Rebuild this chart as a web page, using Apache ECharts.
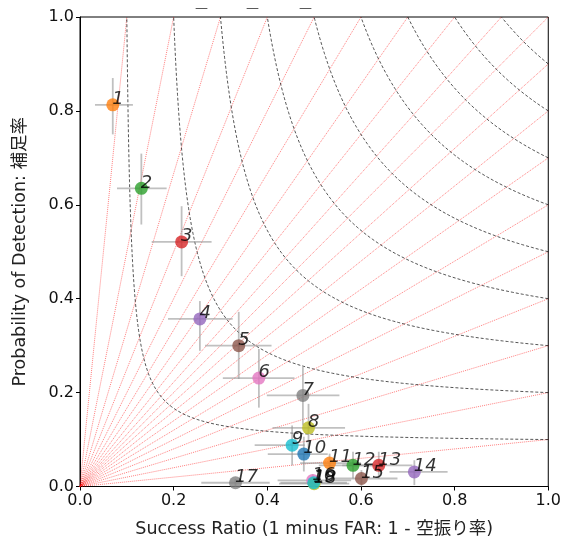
<!DOCTYPE html>
<html>
<head>
<meta charset="utf-8">
<script src="https://cdn.jsdelivr.net/npm/echarts@6/dist/echarts.min.js"></script>
<style>
  html, body { margin: 0; padding: 0; background: #fff; }
  #chart { width: 564px; height: 543px; }
</style>
</head>
<body>
<div id="chart"></div>
<script>
// 各点: 成功率(SR), 捕捉率(POD) とエラーバーの範囲
const labels = ['1','2','3','4','5','6','7','8','9','10','11','12','13','14','15','16','17','18','19'];
const sr =    [0.070, 0.131, 0.217, 0.256, 0.339, 0.382, 0.476, 0.488, 0.453, 0.478, 0.533, 0.583, 0.638, 0.714, 0.601, 0.497, 0.332, 0.500, 0.499];
const pod =   [0.813, 0.635, 0.521, 0.357, 0.300, 0.231, 0.194, 0.125, 0.088, 0.069, 0.050, 0.045, 0.045, 0.031, 0.017, 0.013, 0.008, 0.006, 0.008];
const srLo =  [0.032, 0.079, 0.153, 0.188, 0.267, 0.305, 0.399, 0.411, 0.373, 0.401, 0.470, 0.510, 0.560, 0.661, 0.540, 0.422, 0.259, 0.425, 0.428];
const srHi =  [0.113, 0.185, 0.281, 0.326, 0.409, 0.458, 0.554, 0.566, 0.480, 0.529, 0.600, 0.650, 0.710, 0.785, 0.678, 0.579, 0.405, 0.575, 0.570];
const podLo = [0.750, 0.558, 0.448, 0.289, 0.229, 0.168, 0.130, 0.081, 0.045, 0.032, 0.034, 0.017, 0.017, 0.003, 0.000, 0.000, 0.000, 0.000, 0.000];
const podHi = [0.870, 0.709, 0.597, 0.395, 0.372, 0.293, 0.255, 0.176, 0.130, 0.106, 0.070, 0.074, 0.074, 0.056, 0.035, 0.026, 0.016, 0.014, 0.016];

// 背景の等値線
const csiLevels = [0.1, 0.2, 0.3, 0.4, 0.5, 0.6, 0.7, 0.8, 0.9];
const biasLevels = [10, 5, 10/3, 2.5, 2, 5/3, 10/7, 1.25, 10/9, 1, 0.9, 0.8, 0.7, 0.6, 0.5, 0.4, 0.3, 0.2, 0.1];

const tab10 = ['#1f77b4','#ff7f0e','#2ca02c','#d62728','#9467bd','#8c564b','#e377c2','#7f7f7f','#bcbd22','#17becf'];
const font = 'DejaVu Sans, "Noto Sans CJK JP", sans-serif';

// CSI 曲線: 原点からの射線 POD = k*SR との交点をたどる
function csiCurve(c) {
  const pts = [];
  const a0 = Math.atan(c), a1 = Math.atan(1 / c);
  for (let i = 0; i <= 200; i++) {
    const k = Math.tan(a0 + (a1 - a0) * i / 200);
    const s = (1 + 1 / k) * c / (1 + c);
    pts.push([s, k * s]);
  }
  return pts;
}

const series = [];
biasLevels.forEach(function (b) {
  series.push({
    type: 'line', silent: true, symbol: 'none', z: 1,
    data: [[0, 0], [Math.min(1, 1 / b), Math.min(1, b)]],
    lineStyle: { color: 'rgba(255,0,0,0.5)', width: 1, type: 'dotted' }
  });
});
csiLevels.forEach(function (c) {
  series.push({
    type: 'line', silent: true, symbol: 'none', z: 2,
    data: csiCurve(c),
    lineStyle: { color: 'rgba(0,0,0,0.75)', width: 0.9, type: [3, 2] }
  });
});

// エラーバー
series.push({
  type: 'custom', z: 3, silent: true,
  data: labels.map(function (l, i) { return [sr[i], pod[i], srLo[i], srHi[i], podLo[i], podHi[i]]; }),
  renderItem: function (params, api) {
    const c = api.coord([api.value(0), api.value(1)]);
    const xl = api.coord([api.value(2), api.value(1)]);
    const xh = api.coord([api.value(3), api.value(1)]);
    const yl = api.coord([api.value(0), api.value(4)]);
    const yh = api.coord([api.value(0), api.value(5)]);
    const st = { stroke: 'rgba(150,150,150,0.6)', lineWidth: 1.8 };
    return {
      type: 'group',
      children: [
        { type: 'line', shape: { x1: xl[0], y1: c[1], x2: xh[0], y2: c[1] }, style: st },
        { type: 'line', shape: { x1: c[0], y1: yl[1], x2: c[0], y2: yh[1] }, style: st }
      ]
    };
  }
});

series.push({
  type: 'scatter', z: 5, symbolSize: 13,
  data: labels.map(function (l, i) {
    return { value: [sr[i], pod[i]], name: l, itemStyle: { color: tab10[(i + 1) % 10] } };
  }),
  label: {
    show: true, formatter: '{b}', position: [6, 10], align: 'left', verticalAlign: 'bottom',
    fontSize: 18, fontStyle: 'italic', fontFamily: font, color: '#000'
  }
});

const axisCommon = {
  type: 'value', min: 0, max: 1, interval: 0.2,
  nameLocation: 'middle',
  nameTextStyle: { fontSize: 17.5, fontFamily: font, color: '#222' },
  axisLine: { show: true, lineStyle: { color: '#000', width: 1 } },
  axisTick: { show: true, inside: false, length: 4, lineStyle: { color: '#000' } },
  axisLabel: { fontSize: 16, fontFamily: font, color: '#111', margin: 6,
    formatter: function (v) { return v.toFixed(1); } },
  splitLine: { show: false }
};

const chart = echarts.init(document.getElementById('chart'));
chart.setOption({
  animation: false,
  backgroundColor: '#fff',
  grid: { left: 80, top: 17, width: 469, height: 471, show: true, borderColor: '#000', borderWidth: 1 },
  xAxis: Object.assign({}, axisCommon, { name: 'Success Ratio (1 minus FAR: 1 - 空振り率)', nameGap: 34 }),
  yAxis: Object.assign({}, axisCommon, { name: 'Probability of Detection: 補足率', nameGap: 51 }),
  graphic: [202, 253, 306].map(function (x) {
    return { type: 'text', left: x - 7, top: 2, style: { text: '—', fontSize: 13, fill: '#444', fontFamily: font } };
  }),
  series: series
});
</script>
</body>
</html>
